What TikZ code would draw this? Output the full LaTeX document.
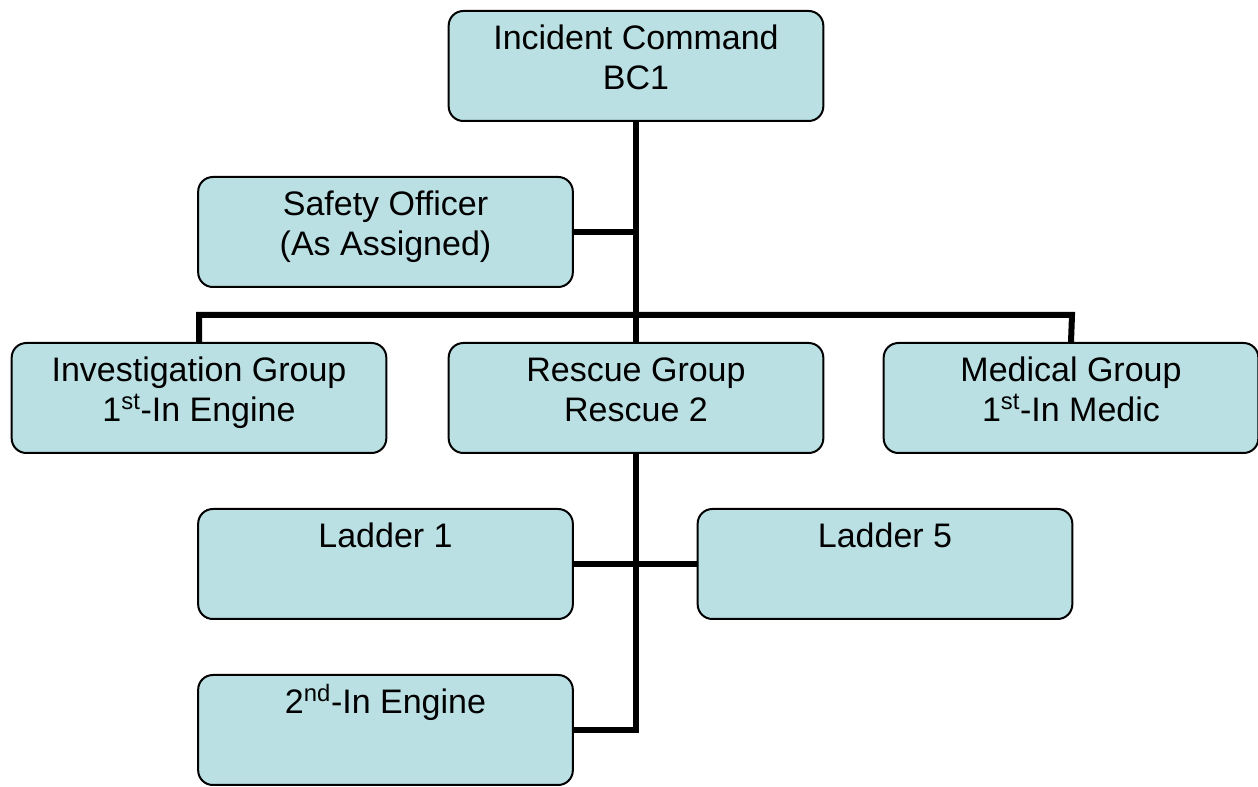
\documentclass[tikz,border=0pt]{standalone}
\usepackage{fontspec}
\setmainfont{Liberation Sans}
\newcommand\lnstrut{\rule{0pt}{26pt}}
\definecolor{boxfill}{RGB}{186,224,228}
\tikzset{
  orgbox/.style={draw=black, line width=1.5pt, fill=boxfill, rounded corners=11pt,
    minimum width=281pt, minimum height=82.5pt, inner sep=0pt},
  lbl/.style={anchor=north, inner sep=0pt, yshift=-3.5pt, align=center,
    font=\fontsize{25.5}{30}\selectfont},
  conn/.style={line width=4.5pt, draw=black}
}
\begin{document}
\begin{tikzpicture}[x=0.75pt, y=-0.75pt]
\useasboundingbox (0,0) rectangle (1258,787);
\coordinate (busL) at (199,315);
\coordinate (busR) at (1072,315);
\coordinate (e-j) at (636,730);
\node[orgbox, label={[lbl]north:\lnstrut Incident Command\\BC1}] (ic) at (636,66) {};
\node[orgbox, label={[lbl]north:\lnstrut Safety Officer\\(As Assigned)}] (so) at (385.5,232) {};
\node[orgbox, label={[lbl]north:\lnstrut Investigation Group\\1\textsuperscript{st}-In Engine}] (ig) at (199,398) {};
\node[orgbox, label={[lbl]north:\lnstrut Rescue Group\\Rescue 2}] (rg) at (636,398) {};
\node[orgbox, label={[lbl]north:\lnstrut Medical Group\\1\textsuperscript{st}-In Medic}] (mg) at (1071,398) {};
\node[orgbox, label={[lbl]north:\lnstrut Ladder 1}] (l1) at (385.5,564) {};
\node[orgbox, label={[lbl]north:\lnstrut Ladder 5}] (l5) at (885,564) {};
\node[orgbox, label={[lbl]north:\lnstrut 2\textsuperscript{nd}-In Engine}] (e2) at (385.5,730) {};
\draw[conn] (ic.south) -- (rg.north);
\draw[conn] (so.east) -- (so.east -| ic.south);
\draw[conn] (ig.north) -- (busL) -- (busR) -- (mg.north);
\draw[conn] (rg.south) -- (e-j) -- (e2.east);
\draw[conn] (l1.east) -- (l5.west);
\end{tikzpicture}
\end{document}
